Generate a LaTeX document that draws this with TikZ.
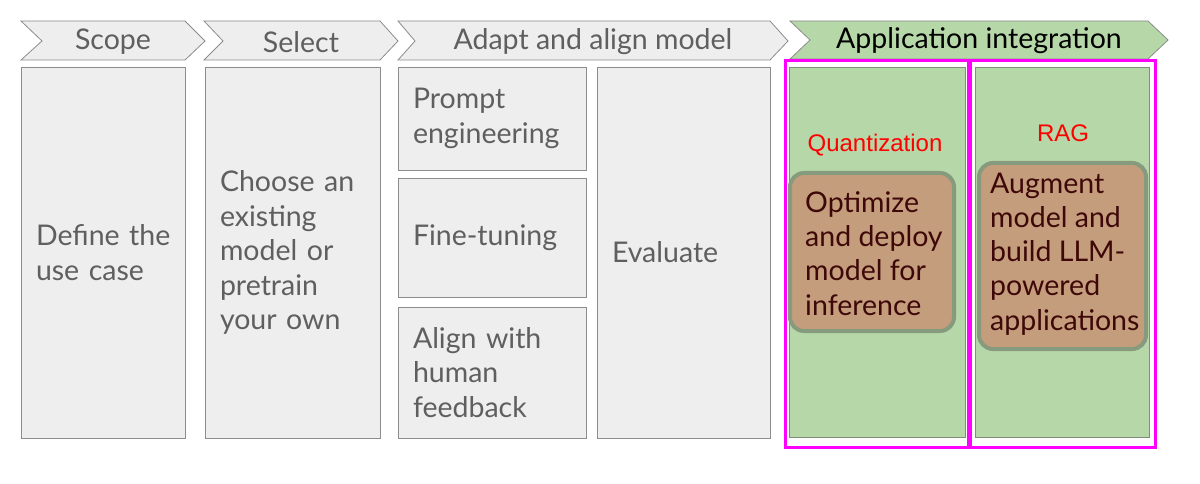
\documentclass[tikz,border=0pt]{standalone}
\usepackage{fontspec}
\setmainfont{Lato}
\newfontfamily\arialf{Liberation Sans}
\definecolor{boxgray}{HTML}{EEEEEE}
\definecolor{edgegray}{HTML}{8C8C8C}
\definecolor{txtgray}{HTML}{5F5F5F}
\definecolor{appgreen}{HTML}{B6D7A8}
\definecolor{edgegreen}{HTML}{7F8F78}
\definecolor{brownfill}{HTML}{C49D7C}
\definecolor{sketchgreen}{HTML}{869A7E}
\definecolor{sketchbrown}{HTML}{9A7A5E}
\definecolor{maroon}{HTML}{3F0808}
\definecolor{magentaline}{HTML}{FF00FF}
\begin{document}
\begin{tikzpicture}[x=1pt,y=-1pt,
  chev/.style={draw=edgegray,fill=boxgray,line width=0.8pt},
  chevtxt/.style={font=\fontsize{28.5}{32}\selectfont,text=txtgray,inner sep=0pt},
  stage/.style={draw=edgegray,fill=boxgray,line width=0.8pt,rectangle,
    inner xsep=15pt,inner ysep=0pt,align=left,
    font=\fontsize{28.5}{34.5}\selectfont,text=txtgray},
  appbox/.style={draw=edgegreen,fill=appgreen,line width=0.8pt,rectangle,inner sep=0pt},
  hilite/.style={draw=magentaline,line width=3pt},
  redlbl/.style={font=\arialf\fontsize{24}{27}\selectfont,text=red,inner sep=0pt},
  brownbox/.style={fill=brownfill,draw=sketchgreen,line width=4pt,rounded corners=14pt,
    rectangle,inner sep=0pt},
  browntxt/.style={anchor=west,inner sep=0pt,align=left,
    font=\fontsize{28.5}{34.2}\selectfont,text=maroon}
]
\useasboundingbox (0,0) rectangle (1200,484);
\fill[white] (0,0) rectangle (1200,484);

% chevrons
\draw[chev] (21,21) -- (185,21) -- (205,41) -- (185,60) -- (21,60) -- (42,41) -- cycle;
\node[chevtxt] (tscope) at (113,42) {Scope};
\draw[chev] (204,21) -- (380,21) -- (398,41) -- (380,60) -- (204,60) -- (223,41) -- cycle;
\node[chevtxt] (tselect) at (301,42) {Select};
\draw[chev] (398,21) -- (770,21) -- (788,41) -- (770,60) -- (398,60) -- (415,41) -- cycle;
\node[chevtxt] (tadapt) at (593,42) {Adapt and align model};
\draw[chev,fill=appgreen] (790,21) -- (1148,21) -- (1168,40) -- (1148,59) -- (790,59) -- (810,40) -- cycle;
\node[chevtxt,text=black] (tapp) at (979,41) {Application integration};

% stage boxes
\node[stage,minimum width=164pt,text width=134pt,minimum height=371pt] (scope) at (103,252.5) {Define~the\\use~case};
\node[stage,minimum width=175pt,text width=145pt,minimum height=371pt] (select) at (292.5,252.5) {Choose~an\\existing\\model~or\\pretrain\\your~own};
\node[stage,minimum width=188pt,text width=158pt,minimum height=103pt] (prompt) at (492,118.5) {Prompt\\engineering};
\node[stage,minimum width=188pt,text width=158pt,minimum height=119pt] (fine) at (492,237.5) {Fine-tuning};
\node[stage,minimum width=188pt,text width=158pt,minimum height=131pt] (alignb) at (492,372.5) {Align~with\\human\\feedback};
\node[stage,minimum width=173pt,text width=143pt,minimum height=371pt] (eval) at (683.5,252.5) {Evaluate};

% application boxes
\node[appbox,minimum width=176pt,minimum height=370pt] (app1) at (877,252) {};
\node[appbox,minimum width=174pt,minimum height=370pt] (app2) at (1062,252) {};
\node[rectangle,hilite,minimum width=183pt,minimum height=386pt,inner sep=0pt] (mag1) at (876.5,254) {};
\node[rectangle,hilite,minimum width=185pt,minimum height=386pt,inner sep=0pt] (mag2) at (1062.5,254) {};

\node[redlbl] (quant) at (875,145) {Quantization};
\node[redlbl] (rag) at (1063,133) {RAG};

% brown sketch boxes
\draw[sketchbrown,line width=1.5pt,rounded corners=13pt] (793,176) rectangle (952,330);
\node[brownbox,minimum width=164pt,minimum height=158pt] (opt) at (872,252) {};
\node[browntxt] (opttxt) at (805,253.5) {Optimize\\and deploy\\model for\\inference};
\draw[sketchbrown,line width=1.5pt,rounded corners=13pt,opacity=0.8] (982,166) rectangle (1144,347);
\node[brownbox,minimum width=167pt,minimum height=186pt] (aug) at (1062.5,256) {};
\node[browntxt] (augtxt) at (990,254) {Augment\\model and\\build LLM-\\powered\\applications};
\end{tikzpicture}
\end{document}
